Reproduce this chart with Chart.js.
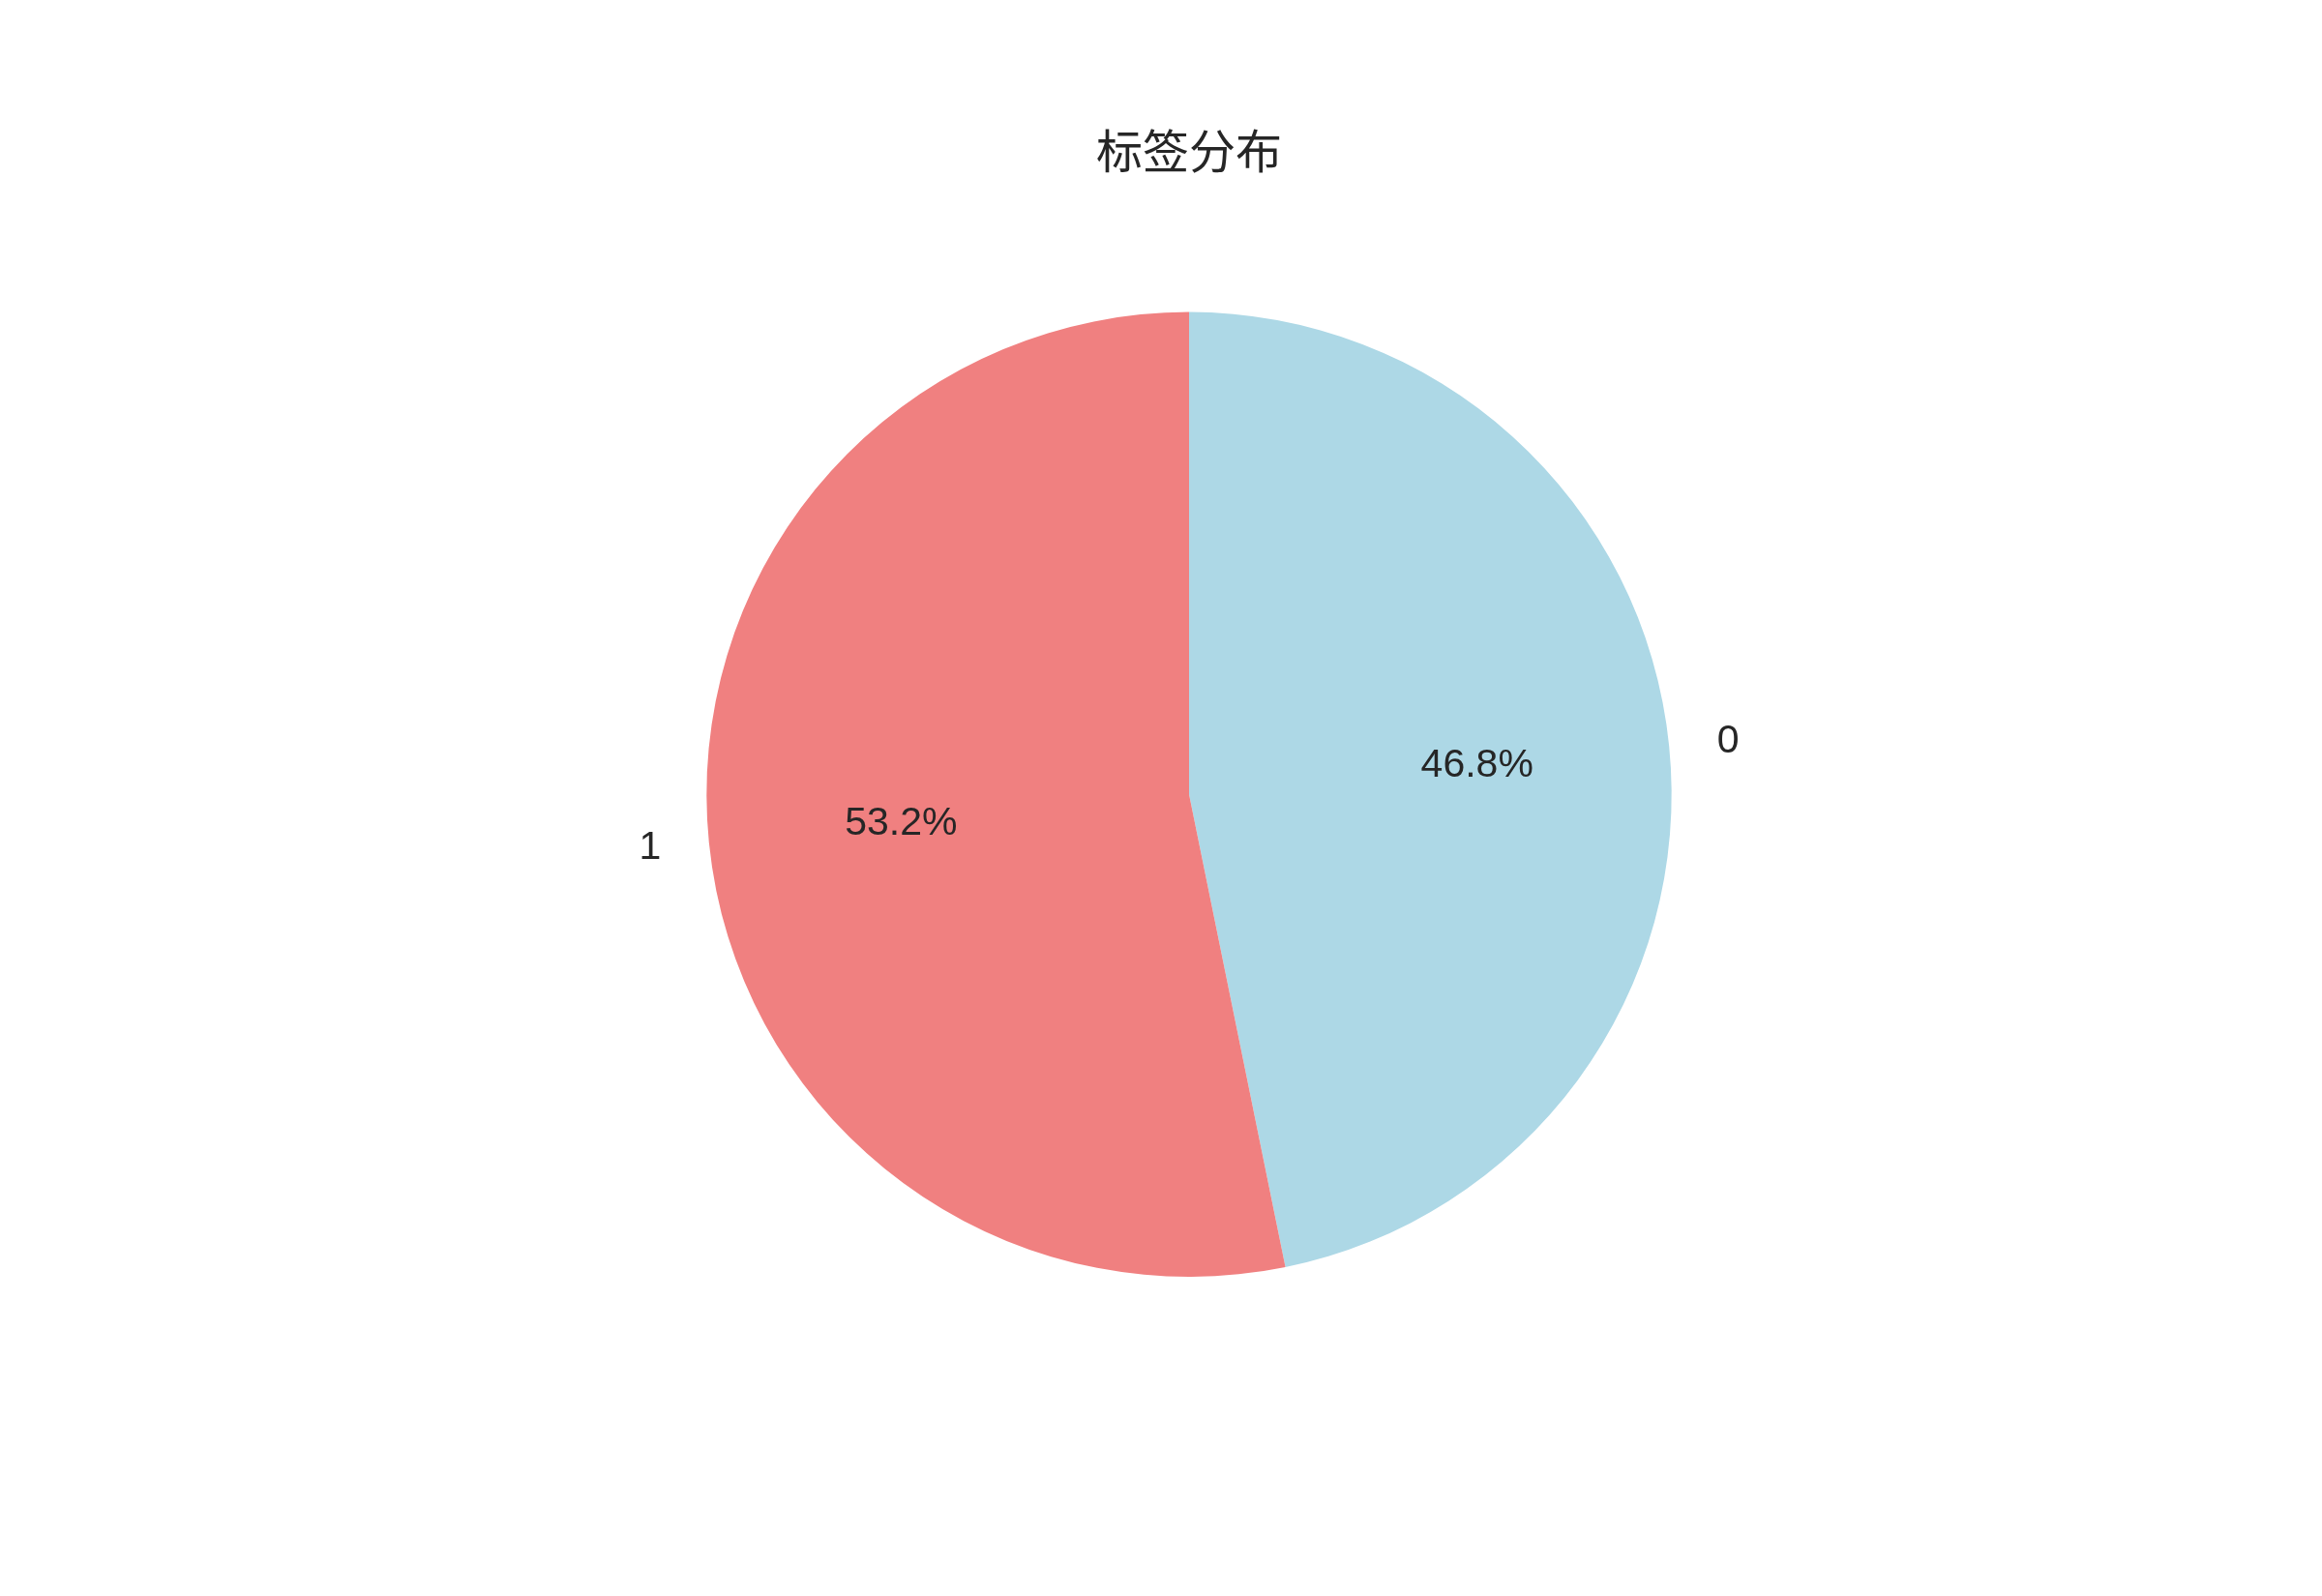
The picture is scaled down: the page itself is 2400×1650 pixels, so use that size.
<!DOCTYPE html>
<html>
<head>
<meta charset="utf-8">
<script src="https://cdn.jsdelivr.net/npm/chart.js@4/dist/chart.umd.min.js"></script>
<style>
  html, body { margin: 0; padding: 0; background: #fff; }
  #wrap { width: 2400px; height: 1650px; }
</style>
</head>
<body>
<div id="wrap"><canvas id="pie-canvas" width="2400" height="1650"></canvas></div>
<script>
var title = "标签分布"
var labels = ["0", "1"]
var values = [46.8, 53.2]
var colors = ["#ADD8E6", "#F08080"]

// draws the slice names and percentages like matplotlib does
var pieLabels = {
    id: 'pieLabels',
    afterDatasetsDraw: function(chart) {
        var ctx = chart.ctx;
        var meta = chart.getDatasetMeta(0);
        var total = values.reduce(function(a, b) { return a + b }, 0);
        ctx.save();
        ctx.fillStyle = '#262626';
        ctx.font = '41px "Liberation Sans", Arial, sans-serif';
        ctx.textBaseline = 'middle';
        meta.data.forEach(function(arc, i) {
            var p = arc.getProps(['x', 'y', 'startAngle', 'endAngle', 'outerRadius'], true);
            var mid = (p.startAngle + p.endAngle) / 2;
            var c = Math.cos(mid), s = Math.sin(mid);
            ctx.textAlign = 'center';
            var pct = (values[i] / total * 100).toFixed(1) + '%';
            ctx.fillText(pct, p.x + c * p.outerRadius * 0.6, p.y + s * p.outerRadius * 0.6);
            ctx.textAlign = c >= 0 ? 'left' : 'right';
            ctx.fillText(labels[i], p.x + c * p.outerRadius * 1.1, p.y + s * p.outerRadius * 1.1);
        });
        ctx.restore();
    }
};

document.addEventListener("DOMContentLoaded", function() {
    var ctx = document.getElementById("pie-canvas").getContext('2d');
    new Chart(ctx, {
        type: 'pie',
        data: {
            labels: labels,
            datasets: [{
                data: values,
                backgroundColor: colors,
                borderWidth: 0
            }]
        },
        options: {
            responsive: false,
            devicePixelRatio: 1,
            animation: false,
            layout: {
                padding: { top: 127, bottom: 330, left: 58, right: 0 }
            },
            plugins: {
                legend: { display: false },
                tooltip: { enabled: false },
                title: {
                    display: true,
                    text: title,
                    color: '#262626',
                    font: { family: '"Noto Sans CJK SC", sans-serif', size: 48, weight: 'normal', lineHeight: 1.2 },
                    padding: { top: 0, bottom: 138 }
                }
            }
        },
        plugins: [pieLabels]
    });
});
</script>
</body>
</html>
